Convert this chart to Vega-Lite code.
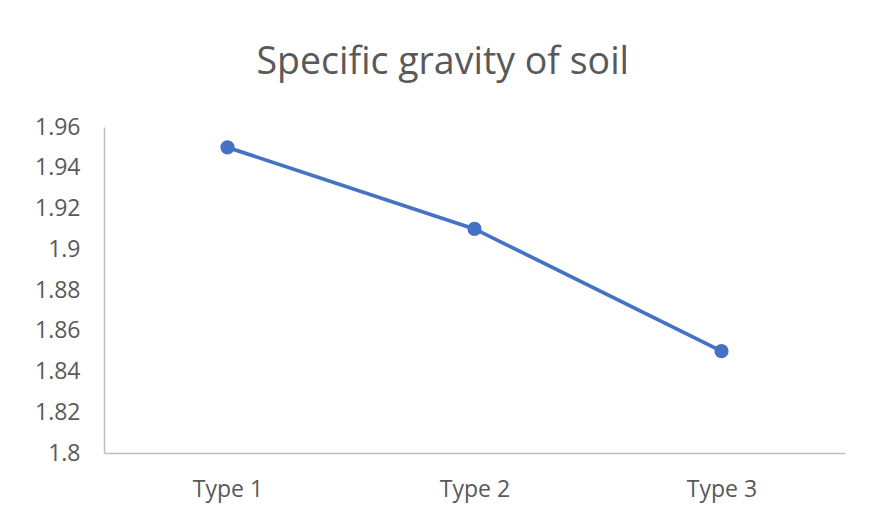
{
  "$schema": "https://vega.github.io/schema/vega-lite/v6.json",
  "autosize": "none",
  "width": 741,
  "height": 326,
  "padding": {"left": 104, "top": 127, "right": 26, "bottom": 71},
  "background": "white",
  "title": {
    "text": "Specific gravity of soil",
    "frame": "bounds",
    "anchor": "middle",
    "font": "Open Sans",
    "fontSize": 37.5,
    "fontWeight": "normal",
    "color": "#595959",
    "offset": 35,
    "dx": 3
  },
  "data": {
    "values": [
      {"type": "Type 1", "gravity": 1.95},
      {"type": "Type 2", "gravity": 1.91},
      {"type": "Type 3", "gravity": 1.85}
    ]
  },
  "config": {
    "view": {"stroke": null},
    "axis": {
      "labelFont": "Open Sans",
      "labelFontSize": 23,
      "labelColor": "#595959",
      "domainColor": "#BFBFBF",
      "domainWidth": 1.5,
      "ticks": false,
      "grid": false,
      "title": null
    }
  },
  "encoding": {
    "x": {
      "field": "type",
      "type": "ordinal",
      "scale": {"type": "point", "padding": 0.5},
      "axis": {"labelAngle": 0, "labelPadding": 25}
    },
    "y": {
      "field": "gravity",
      "type": "quantitative",
      "scale": {"domain": [1.8, 1.96], "zero": false, "nice": false},
      "axis": {
        "values": [1.8, 1.82, 1.84, 1.86, 1.88, 1.9, 1.92, 1.94, 1.96],
        "format": "~f",
        "labelPadding": 24
      }
    }
  },
  "layer": [
    {"mark": {"type": "line", "color": "#4472C4", "strokeWidth": 3.7}},
    {"mark": {"type": "point", "filled": true, "opacity": 1, "color": "#4472C4", "size": 200}}
  ]
}
